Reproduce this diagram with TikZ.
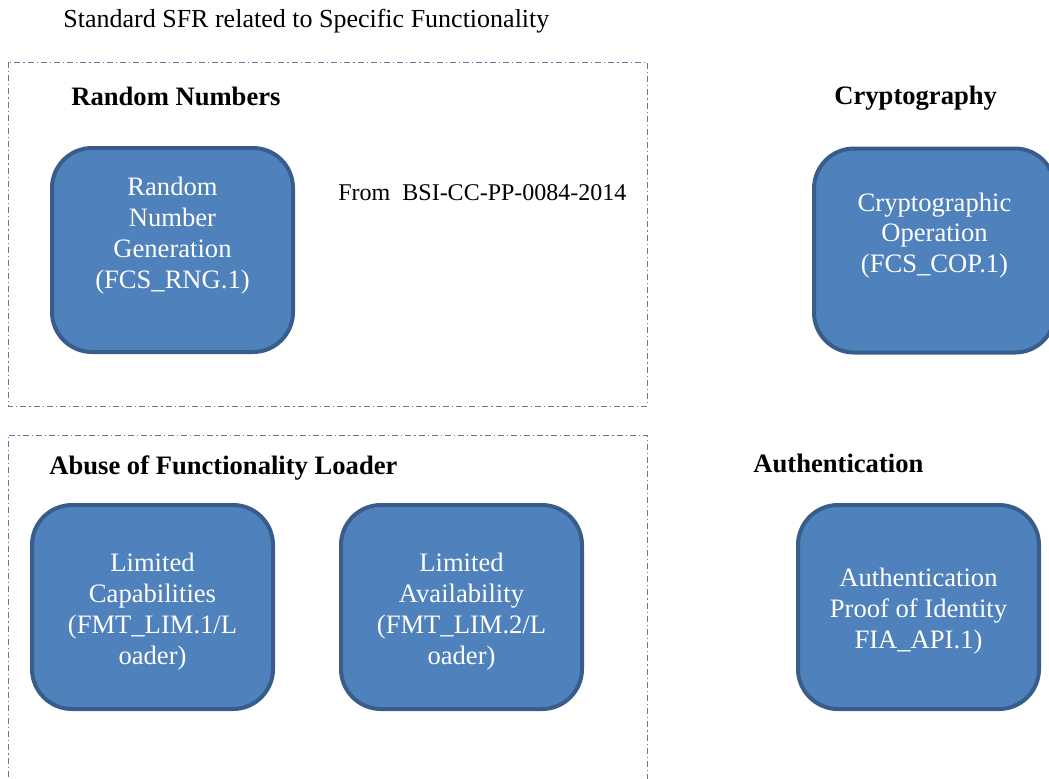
\documentclass[tikz,border=0pt]{standalone}
\usepackage{fontspec}
\setmainfont{Liberation Serif}
\usetikzlibrary{positioning}
\definecolor{boxfill}{HTML}{4F81BD}
\definecolor{boxline}{HTML}{385D8A}
\definecolor{grpline}{HTML}{5E7C9E}

\begin{document}
\begin{tikzpicture}[x=0.5pt, y=-0.5pt,
  grp/.style={draw=grpline, line width=0.5pt,
              dash pattern=on 3pt off 1.5pt on 0.6pt off 1.5pt},
  sfr/.style={rectangle, draw=boxline, fill=boxfill, line width=2pt,
              rounded corners=20pt, minimum width=120.5pt,
              minimum height=102pt},
  lbl/.style={text=white, align=center,
              font=\fontsize{13.3}{15.4}\selectfont},
  hdr/.style={anchor=west, inner sep=0pt,
              font=\fontsize{13.3}{15}\selectfont\bfseries},
  note/.style={anchor=west, inner sep=0pt,
               font=\fontsize{13}{15}\selectfont}
]
\clip (0,0) rectangle (1049,778);
\node[note] (title) at (63,21) {Standard SFR related to Specific Functionality};

% groups
\draw[grp] (8,62) rectangle (647,406);
\draw[grp] (8,790) -- (8,435) -- (647,435) -- (647,790);

\node[hdr] (hrng) at (71,96) {Random Numbers};
\node[hdr] (hcop) at (834,98) {Cryptography};
\node[hdr] (hfmt) at (49,468) {Abuse of Functionality Loader};
\node[hdr] (hfia) at (753,463) {Authentication};
\node[note, font=\fontsize{12}{14}\selectfont] (src) at (338,193)
  {From~~BSI-CC-PP-0084-2014};

% SFR boxes
\node[sfr] (rng) at (172.5,250) {};
\node[lbl] (rngtxt) at (172.5,235.5) {Random\\Number\\Generation\\(FCS\_RNG.1)};
\node[sfr] (cop) at (934.5,250.5) {};
\node[lbl] (coptxt) at (934.5,235.5) {Cryptographic\\Operation\\(FCS\_COP.1)};
\node[sfr] (cap) at (152.5,607) {};
\node[lbl] (captxt) at (152.5,611.5) {Limited\\Capabilities\\(FMT\_LIM.1/L\\oader)};
\node[sfr] (avl) at (461.5,607) {};
\node[lbl] (avltxt) at (461.5,611.5) {Limited\\Availability\\(FMT\_LIM.2/L\\oader)};
\node[sfr] (fia) at (918.5,607) {};
\node[lbl] (fiatxt) at (918.5,611) {Authentication\\Proof of Identity\\FIA\_API.1)};
\end{tikzpicture}
\end{document}
